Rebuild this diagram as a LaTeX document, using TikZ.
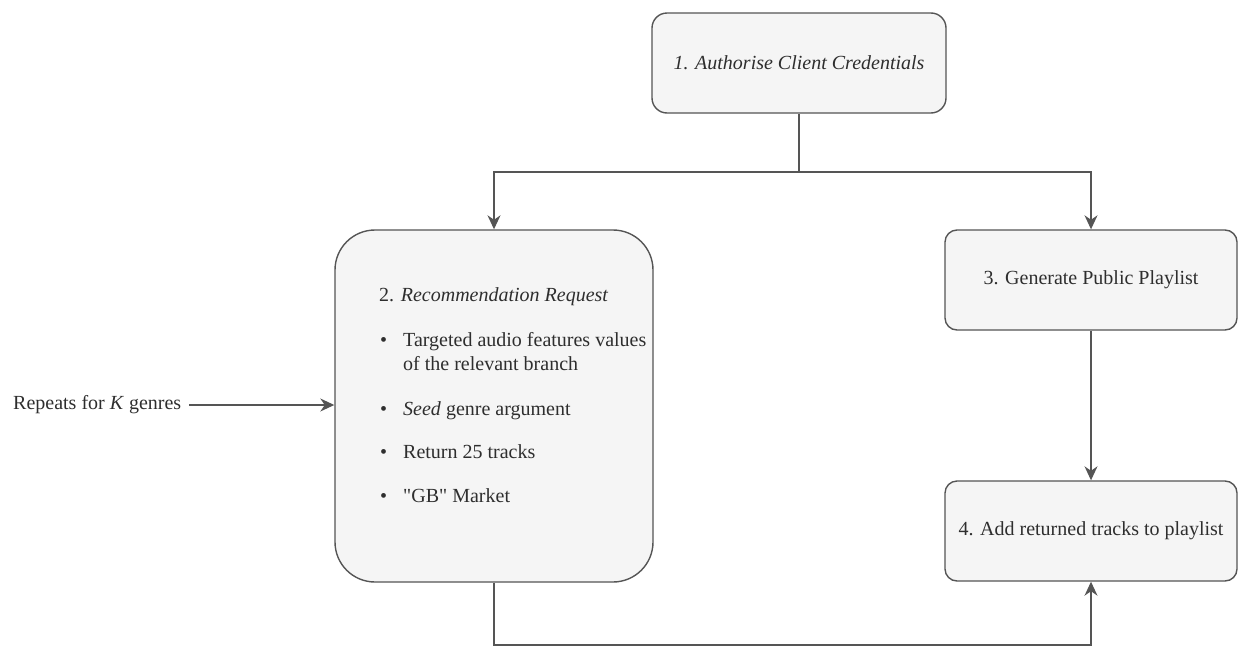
\documentclass[tikz,border=0pt]{standalone}
\usepackage{fontspec}
\setmainfont{Liberation Serif}[Ligatures=NoCommon]
\usetikzlibrary{arrows.meta}
\definecolor{boxfill}{HTML}{F5F5F5}
\definecolor{boxline}{HTML}{555555}
\definecolor{txt}{HTML}{2E2E2E}
\tikzset{
  stepbox/.style={draw=boxline, fill=boxfill, line width=1.4pt, inner sep=0pt},
  lbl/.style={font=\fontsize{20}{24}\selectfont, text=txt, inner sep=0pt},
  tip/.tip={Stealth[length=14pt,width=13pt,inset=4.5pt]},
  arr/.style={draw=boxline, line width=1.4pt, -tip},
  link/.style={draw=boxline, line width=1.4pt}
}
\begin{document}
\begin{tikzpicture}[x=1pt,y=-1pt]
\useasboundingbox (0,0) rectangle (1239,648);

% process boxes
\node[stepbox, rounded corners=15pt, minimum width=294pt, minimum height=100pt] (auth) at (799,63) {};
\node[lbl] (authT) at (auth.center) {\textit{1. Authorise Client Credentials}};

\node[stepbox, rounded corners=40pt, minimum width=318pt, minimum height=352pt] (req) at (494,406) {};

\node[stepbox, rounded corners=12pt, minimum width=292pt, minimum height=100pt] (gen) at (1091,280) {};
\node[lbl] (genT) at (gen.center) {3. Generate Public Playlist};

\node[stepbox, rounded corners=12pt, minimum width=292pt, minimum height=100pt] (add) at (1091,531) {};
\node[lbl] (addT) at (add.center) {4. Add returned tracks to playlist};

% contents of the recommendation request
\node[lbl, anchor=base west] (reqT) at (379,301) {2. \textit{Recommendation Request}};
\node[lbl, anchor=base west] (b1) at (380,346) {\textbullet};
\node[lbl, anchor=base west] (t1) at (403,346) {Targeted audio features values};
\node[lbl, anchor=base west] (t1b) at (403,370) {of the relevant branch};
\node[lbl, anchor=base west] (b2) at (380,415) {\textbullet};
\node[lbl, anchor=base west] (t2) at (403,415) {\textit{Seed} genre argument};
\node[lbl, anchor=base west] (b3) at (380,458) {\textbullet};
\node[lbl, anchor=base west] (t3) at (403,458) {Return 25 tracks};
\node[lbl, anchor=base west] (b4) at (380,502) {\textbullet};
\node[lbl, anchor=base west] (t4) at (403,502) {\textquotedbl GB\textquotedbl{} Market};

% loop label
\node[lbl, anchor=west, inner xsep=8pt] (rep) at (5,405) {Repeats for \textit{K} genres};

% connectors
\coordinate (split) at (799,172);
\draw[link] (auth.south) -- (split);
\draw[arr] (split) -| (req.north);
\draw[arr] (split) -| (gen.north);
\draw[arr] (gen.south) -- (add.north);
\draw[arr] (rep.east) -- (rep.east -| req.west);
\coordinate (low) at (494,645);
\draw[arr] (req.south) -- (low) -| (add.south);
\end{tikzpicture}
\end{document}
